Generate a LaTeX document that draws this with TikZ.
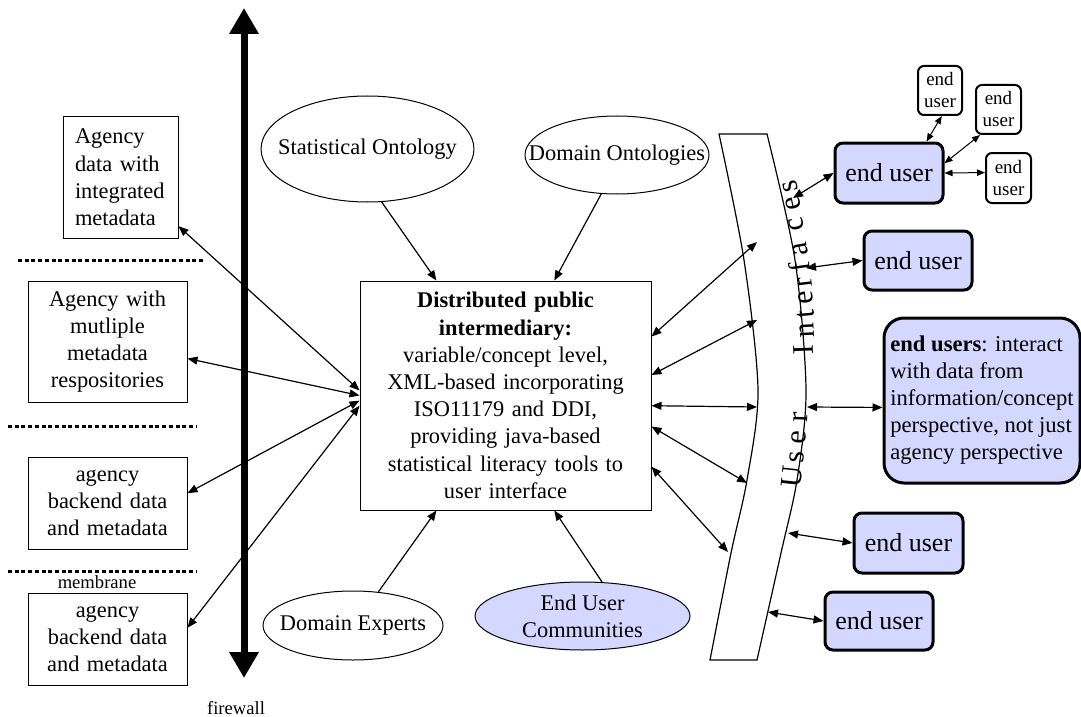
\documentclass[tikz,border=0pt]{standalone}
\usepackage{fontspec}
\setmainfont{Liberation Serif}
\usetikzlibrary{arrows.meta,shapes.geometric}
\definecolor{userblue}{RGB}{212,215,255}

\begin{document}
\begin{tikzpicture}[x=0.5pt,y=-0.5pt,
    font=\fontsize{11.2}{13.6}\selectfont,
    agencybox/.style={draw, line width=0.5pt, inner xsep=3pt, inner ysep=0pt, text width=73.5pt, align=center, minimum width=79.5pt},
    concept/.style={draw, ellipse, line width=0.5pt, inner sep=0pt, align=center},
    enduser/.style={draw, rounded corners=4pt, line width=1.5pt, fill=userblue, inner sep=0pt, minimum width=54pt, minimum height=29.5pt, font=\fontsize{13}{15}\selectfont},
    peer/.style={draw, rounded corners=3pt, line width=1pt, inner sep=0pt, align=center, minimum width=22.5pt, minimum height=24.5pt, font=\fontsize{9.5}{11}\selectfont},
    smalltext/.style={inner sep=0pt, font=\fontsize{9.3}{11}\selectfont},
    uiletter/.style={inner sep=0pt, anchor=base, font=\fontsize{15}{15}\selectfont},
    divider/.style={line width=1.5pt, dash pattern=on 2pt off 1.35pt},
    firewall/.style={line width=3.5pt, {Triangle[length=13pt,width=14pt]}-{Triangle[length=13pt,width=14pt]}},
    feed/.style={line width=0.6pt, -{Triangle[length=5pt,width=4pt]}},
    link/.style={line width=0.6pt, {Triangle[length=5pt,width=4pt]}-{Triangle[length=5pt,width=4pt]}},
    peerlink/.style={line width=0.5pt, {Triangle[length=4pt,width=3.2pt]}-{Triangle[length=4pt,width=3.2pt]}}]

    \useasboundingbox (0,0) rectangle (1081,717);

    % firewall and membranes
    \coordinate (fwtop) at (244,8);
    \coordinate (fwbot) at (244,678);
    \draw[firewall] (fwbot) -- (fwtop);
    \node[smalltext] (fwlabel) at (236,708) {firewall};

    \draw[divider] (18,260) -- (205,260);
    \draw[divider] (8,426) -- (197,426);
    \draw[divider] (8,571) -- (197,571);
    \node[smalltext] (membrane) at (97,582) {membrane};

    % agency side
    \node[agencybox, text width=45.5pt, inner xsep=6pt, align=left, minimum width=57.5pt, minimum height=60.5pt] (agdata) at (120.5,177.5)
        {Agency\\ data with\\ integrated\\ metadata};
    \node[agencybox, minimum height=60.5pt] (agmulti) at (107.5,341.5)
        {Agency with\\ mutliple\\ metadata\\ respositories};
    \node[agencybox, minimum height=46pt] (agbackA) at (107.5,503)
        {agency\\ backend data\\ and metadata};
    \node[agencybox, minimum height=46pt] (agbackB) at (107.5,639)
        {agency\\ backend data\\ and metadata};

    % intermediary and its sources
    \node[draw, line width=0.5pt, text width=141pt, inner xsep=2.25pt, align=center, minimum height=114.5pt] (dpi) at (505.5,395.5)
        {\textbf{Distributed public}\\ \textbf{intermediary:}\\ variable/concept level,\\ XML-based incorporating\\ ISO11179 and DDI,\\ providing java-based\\ statistical literacy tools to\\ user interface};

    \node[concept, inner xsep=-7pt, minimum width=104.5pt, minimum height=53pt] (statont) at (367.5,149) {Statistical Ontology};
    \node[concept, inner xsep=-11.5pt, minimum width=92pt, minimum height=39pt] (domont) at (617,155) {Domain Ontologies};
    \node[concept, inner xsep=-5pt, minimum width=90pt, minimum height=34.5pt] (domexp) at (353,625.5) {Domain Experts};
    \node[concept, fill=userblue, minimum width=107.5pt, minimum height=34pt] (eucomm) at (582.5,616) {End User\\ Communities};

    \draw[feed] (statont.285) -- (dpi.121);
    \draw[feed] (domont.248) -- (dpi.67.5);
    \draw[feed] (domexp.53) -- (dpi.239.5);
    \draw[feed] (eucomm.60) -- (dpi.293);

    \draw[link] (dpi.178) -- (agdata.-40);
    \draw[link] (dpi.180) -- (agmulti.-12);
    \draw[link] (dpi.182) -- (agbackA.7);
    \draw[link] (dpi.184.5) -- (agbackB.8);

    % user interface band
    \draw[line width=0.6pt] plot[smooth] coordinates {(719,134) (744,260) (758,390) (747,480) (731,553) (710,660)}
        -- plot[smooth] coordinates {(757,660) (781,553) (797,480) (806,390) (795,260) (767,134)} -- cycle;
    \foreach \ch/\px/\py/\ang [count=\i] in {U/802/478/84, s/804/458/86, e/806/438/87, r/808/418/88,
        I/813/350/92, n/814/330/93, t/814/313/95, e/813/297/96, r/812/282/97,
        f/810/266/98, a/807/248/100, c/803/223/101, e/800/202/102, s/797/185/103}
        \node[uiletter, rotate=\ang] (uil\i) at (\px,\py) {\ch};

    \coordinate (uiA) at (757,242);
    \coordinate (uiB) at (757,320);
    \coordinate (uiC) at (757,407);
    \coordinate (uiD) at (747,483);
    \coordinate (uiE) at (728,552);
    \draw[link] (dpi.22) -- (uiA);
    \draw[link] (dpi.8) -- (uiB);
    \draw[link] (dpi.-4.5) -- (uiC);
    \draw[link] (dpi.-12.6) -- (uiD);
    \draw[link] (dpi.-26) -- (uiE);

    % end users
    \node[enduser, minimum height=30pt] (euMain) at (889,173) {end user};
    \node[enduser] (eu2) at (918,260.5) {end user};
    \node[enduser, minimum width=54.5pt, minimum height=30pt] (eu3) at (908.5,543) {end user};
    \node[enduser, minimum height=29pt] (eu4) at (879,621) {end user};
    \node[draw, rounded corners=10pt, line width=1.5pt, fill=userblue, align=left, inner xsep=3pt,
        minimum width=98pt, minimum height=82.5pt, font=\fontsize{11.3}{13.5}\selectfont] (euNote) at (982,400.5)
        {\textbf{end users}: interact\\ with data from\\ information/concept\\ perspective, not just\\ agency perspective};

    \node[peer, minimum width=22pt] (peerA) at (940,90.5) {end\\ user};
    \node[peer] (peerB) at (998.5,109.5) {end\\ user};
    \node[peer, minimum height=25pt] (peerC) at (1008.5,178) {end\\ user};

    \coordinate (uoA) at (793,198);
    \coordinate (uoB) at (806,268);
    \coordinate (uoC) at (807,407);
    \coordinate (uoD) at (788,533);
    \coordinate (uoE) at (768,612);
    \draw[link] (uoA) -- (euMain.west);
    \draw[link] (uoB) -- (eu2.west);
    \draw[link] (uoC) -- (euNote.184);
    \draw[link] (uoD) -- (eu3.west);
    \draw[link] (uoE) -- (eu4.west);

    \draw[peerlink] (euMain.40) -- (peerA.-86);
    \draw[peerlink] (euMain.10) -- (peerB.234);
    \draw[peerlink] (euMain.east) -- (peerC.167);
\end{tikzpicture}
\end{document}
